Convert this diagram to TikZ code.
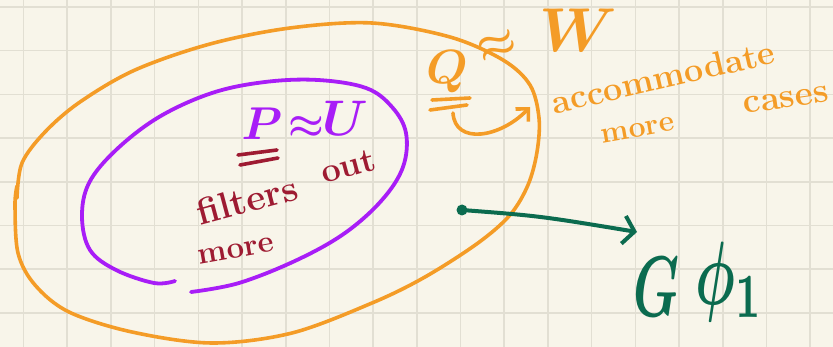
\documentclass[tikz,border=0pt]{standalone}
\usetikzlibrary{arrows.meta}
\definecolor{paper}{HTML}{F8F5EA}
\definecolor{gridc}{HTML}{E2DFD3}
\definecolor{orng}{HTML}{F49C27}
\definecolor{purp}{HTML}{A81DF7}
\definecolor{dred}{HTML}{9E1B32}
\definecolor{grn}{HTML}{0B6B4F}
\tikzset{
  gridline/.style={draw=gridc, line width=1.6pt},
  orangepen/.style={draw=orng, line width=3.6pt, line cap=round, line join=round},
  purplepen/.style={draw=purp, line width=3.8pt, line cap=round, line join=round},
  redpen/.style={draw=dred, line width=3.6pt, line cap=round},
  greenpen/.style={draw=grn, line width=4pt, line cap=round, line join=round},
  otext/.style={text=orng, inner sep=0pt},
  ptext/.style={text=purp, inner sep=0pt},
  rtext/.style={text=dred, inner sep=0pt},
  gtext/.style={text=grn, inner sep=0pt},
}
\newcommand{\fsz}[1]{\fontsize{#1}{#1}\selectfont}
\newcommand{\hwmath}[2]{\scalebox{#1}{\boldmath$#2$}}
\begin{document}
\begin{tikzpicture}[x=1pt,y=-1pt]
\fill[paper] (0,0) rectangle (833,347);
\useasboundingbox (0,0) rectangle (833,347);
% grid
\foreach \i in {0,...,18} \draw[gridline] ({23.5+43.7*\i},0) -- ({23.5+43.7*\i},347);
\foreach \j in {0,...,7} \draw[gridline] (0,{7+43.7*\j}) -- (833,{7+43.7*\j});

% outer orange ellipse
\draw[orangepen] plot[smooth, tension=0.55] coordinates {
 (17,198) (22,163) (45,132) (80,102) (135,70) (210,44) (290,28) (372,23)
 (450,37) (503,60) (530,85) (539,118) (537,152) (528,185) (510,215)
 (478,243) (425,277) (372,303) (292,333) (212,343) (132,332) (69,312)
 (35,285) (18,253) (15,205) (17,186)};

% inner purple ellipse (open at the bottom)
\draw[purplepen] plot[smooth, tension=0.6] coordinates {
 (191,292) (239,283) (297,260) (345,233) (382,200) (403,167) (406,133)
 (392,107) (366,88) (318,80) (265,82) (212,93) (159,117) (116,150)
 (89,183) (82,217) (90,250) (116,270) (154,283) (175,281)};

% P ~ U
\node[ptext] (P) at (262,124) {\hwmath{4.6}{P}};
\node[ptext] (approxPU) at (306,128) {\hwmath{4}{\approx}};
\node[ptext] (U) at (345,118) {\hwmath{5}{U}};
\draw[redpen] (238,155) -- (277,150);
\draw[redpen] (240,165) -- (278,158);

% filters out more
\node[rtext, font=\fsz{37}\bfseries, rotate=15] (filters) at (247,200) {filters};
\node[rtext, font=\fsz{34}\bfseries, rotate=15] (out) at (348,166) {out};
\node[rtext, font=\fsz{31}\bfseries, rotate=10] (move) at (236,251) {more};

% Q ~ W
\node[otext] (Q) at (447,72) {\hwmath{4.8}{Q}};
\node[otext, rotate=20] (approxQW) at (497,46) {\hwmath{4.4}{\approx}};
\node[otext] (W) at (578,30) {\hwmath{6.2}{W}};
\draw[orangepen] (432,100) -- (470,98);
\draw[orangepen] (430,110) -- (467,105);
\coordinate (qs) at (453,113);
\coordinate (qe) at (530,107);
\draw[orangepen, -{Straight Barb[length=9pt,width=18pt]}] (qs) .. controls (455,145) and (500,138) .. (qe);

% accommodate more cases
\node[otext, font=\fsz{34}\bfseries, rotate=13] (acc) at (663,77) {accommodate};
\node[otext, font=\fsz{30}\bfseries, rotate=10] (more2) at (638,130) {more};
\node[otext, font=\fsz{35}\bfseries, rotate=8] (cases) at (786,100) {cases};

% green arrow
\coordinate (gdot) at (462,210);
\coordinate (gtip) at (637,232);
\fill[grn] (gdot) circle (5.5pt);
\draw[greenpen, -{Straight Barb[length=11pt,width=28pt]}] (gdot) .. controls (540,216) .. (gtip);
\node[gtext] (G) at (657,287) {\scalebox{5.2}[8.6]{\boldmath$G$}};
\node[gtext] (phi) at (730,282) {\scalebox{5.6}[9]{\boldmath$\phi_1$}};
\end{tikzpicture}
\end{document}
